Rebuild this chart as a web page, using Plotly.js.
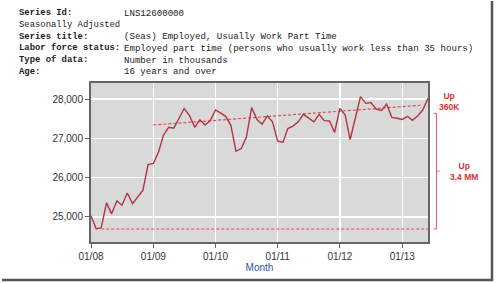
<!DOCTYPE html>
<html>
<head>
<meta charset="utf-8">
<script src="https://cdn.plot.ly/plotly-3.0.1.min.js"></script>
<style>
html,body{margin:0;padding:0;background:#fff;}
#chart{width:497px;height:283px;}
</style>
</head>
<body>
<div id="chart"></div>
<script>
// ---- data ----
const months = [
 '2008-01','2008-02','2008-03','2008-04','2008-05','2008-06','2008-07','2008-08','2008-09','2008-10','2008-11','2008-12',
 '2009-01','2009-02','2009-03','2009-04','2009-05','2009-06','2009-07','2009-08','2009-09','2009-10','2009-11','2009-12',
 '2010-01','2010-02','2010-03','2010-04','2010-05','2010-06','2010-07','2010-08','2010-09','2010-10','2010-11','2010-12',
 '2011-01','2011-02','2011-03','2011-04','2011-05','2011-06','2011-07','2011-08','2011-09','2011-10','2011-11','2011-12',
 '2012-01','2012-02','2012-03','2012-04','2012-05','2012-06','2012-07','2012-08','2012-09','2012-10','2012-11','2012-12',
 '2013-01','2013-02','2013-03','2013-04','2013-05','2013-06'
];
const employedPartTime = [
 25030,24695,24730,25360,25080,25410,25300,25610,25340,25510,25680,26330,
 26360,26660,27080,27280,27260,27510,27760,27580,27280,27470,27340,27450,
 27720,27640,27560,27330,26670,26740,27030,27780,27480,27360,27570,27420,
 26930,26900,27250,27310,27420,27610,27510,27420,27610,27450,27440,27150,
 27760,27590,26970,27510,28060,27890,27910,27740,27710,27870,27530,27510,
 27480,27560,27460,27570,27720,28020
];
const lowLineX = ['2008-03','2013-06'];
const lowLineY = [24695, 24695];
const trendLineX = ['2009-01','2013-05'];
const trendLineY = [27340, 27845];
const bracketTop = 27636;
const bracketBottom = 24695;
const yTickVals = [25000, 26000, 27000, 28000];
const yTickText = ['25,000', '26,000', '27,000', '28,000'];
const xTickVals = ['2008-01-01','2009-01-01','2010-01-01','2011-01-01','2012-01-01','2013-01-01'];
const xTickText = ['01/08','01/09','01/10','01/11','01/12','01/13'];
const headerLabels = ['Series Id:', 'Seasonally Adjusted', 'Series title:', 'Labor force status:', 'Type of data:', 'Age:'];
const headerValues = ['LNS12600000', '', '(Seas) Employed, Usually Work Part Time',
  'Employed part time (persons who usually work less than 35 hours)', 'Number in thousands', '16 years and over'];
const headerBold = [true, false, true, true, true, true];

// ---- geometry helpers (pixels -> paper) ----
const W = 497, H = 283;
const M = {l: 91, r: 69, t: 83, b: 41};
const pw = W - M.l - M.r, ph = H - M.t - M.b;
const px = x => (x - M.l) / pw;
const py = y => (H - M.b - y) / ph;

const red = '#d83434';
const lineY = [13.3, 25, 36.7, 48.5, 60.2, 71.8];

const annotations = [];
headerLabels.forEach((t, i) => {
  annotations.push({
    xref: 'paper', yref: 'paper', x: px(18), y: py(lineY[i]),
    xanchor: 'left', yanchor: 'middle', showarrow: false, borderpad: 0,
    text: headerBold[i] ? '<b>' + t + '</b>' : t,
    font: {family: 'Liberation Mono, Courier New, monospace', size: 8.9, color: '#222'}
  });
  if (headerValues[i]) {
    annotations.push({
      xref: 'paper', yref: 'paper', x: px(123), y: py(lineY[i]),
      xanchor: 'left', yanchor: 'middle', showarrow: false, borderpad: 0,
      text: headerValues[i],
      font: {family: 'Liberation Mono, Courier New, monospace', size: 9.1, color: '#222'}
    });
  }
});
const noteFont = {family: 'Liberation Sans, Arial, sans-serif', size: 8.5, color: red};
annotations.push({xref:'paper', yref:'paper', x: px(449), y: py(101), xanchor:'center', yanchor:'middle',
  showarrow:false, borderpad:0, text:'<b>Up</b><br><b>360K</b>', font: noteFont, align:'center'});
annotations.push({xref:'paper', yref:'paper', x: px(464), y: py(171.5), xanchor:'center', yanchor:'middle',
  showarrow:false, borderpad:0, text:'<b>Up</b><br><b>3.4 MM</b>', font: noteFont, align:'center'});

const bx = px(436.5);
const shapes = [
  {type:'line', xref:'paper', yref:'y', x0:bx, x1:bx, y0:bracketBottom, y1:bracketTop, line:{color:'#e06060', width:1}},
  {type:'line', xref:'paper', yref:'y', x0:px(433.5), x1:bx, y0:bracketTop, y1:bracketTop, line:{color:'#e06060', width:1}},
  {type:'line', xref:'paper', yref:'y', x0:px(433.5), x1:bx, y0:bracketBottom, y1:bracketBottom, line:{color:'#e06060', width:1}},
  {type:'line', xref:'paper', yref:'y', x0:bx, x1:px(439.5), y0:(bracketTop+bracketBottom)/2, y1:(bracketTop+bracketBottom)/2, line:{color:'#e06060', width:1}},
  // page frame (right and bottom shadow)
  {type:'line', xref:'paper', yref:'paper', x0:px(492), x1:px(492), y0:py(1), y1:py(281), line:{color:'#555', width:2.5}},
  {type:'line', xref:'paper', yref:'paper', x0:px(2), x1:px(493), y0:py(280), y1:py(280), line:{color:'#555', width:2.5}}
];

const traces = [
  {x: lowLineX, y: lowLineY, type:'scatter', mode:'lines', line:{color:'#d9534f', width:1.2, dash:'3px,2px'}, hoverinfo:'skip'},
  {x: trendLineX, y: trendLineY, type:'scatter', mode:'lines', line:{color:'#d9534f', width:1.2, dash:'3px,2px'}, hoverinfo:'skip'},
  {x: months, y: employedPartTime, type:'scatter', mode:'lines', line:{color:'#b5333f', width:1.4}}
];

const tickFont = {family: 'Liberation Sans, Arial, sans-serif', size: 10, color: '#333'};
const layout = {
  width: W, height: H,
  margin: M,
  paper_bgcolor: '#fff', plot_bgcolor: '#d9d9d9',
  showlegend: false,
  xaxis: {
    type: 'date', range: ['2008-01-01', '2013-06-01'],
    tickvals: xTickVals, ticktext: xTickText,
    showgrid: true, gridcolor: '#fff', gridwidth: 1.5,
    showline: true, linecolor: '#666', linewidth: 2, mirror: true,
    ticks: 'outside', ticklen: 4, tickcolor: '#666', tickfont: tickFont,
    zeroline: false,
    title: {text: 'Month', font: {family: 'Liberation Sans, Arial, sans-serif', size: 10, color: '#2a55a8'}, standoff: 2}
  },
  yaxis: {
    range: [24364, 28407],
    tickvals: yTickVals, ticktext: yTickText,
    showgrid: true, gridcolor: '#fff', gridwidth: 1.5,
    showline: true, linecolor: '#666', linewidth: 2, mirror: true,
    ticks: 'outside', ticklen: 4, tickcolor: '#666', tickfont: tickFont,
    zeroline: false
  },
  annotations: annotations,
  shapes: shapes
};

Plotly.newPlot('chart', traces, layout, {displayModeBar: false, staticPlot: true});
</script>
</body>
</html>
